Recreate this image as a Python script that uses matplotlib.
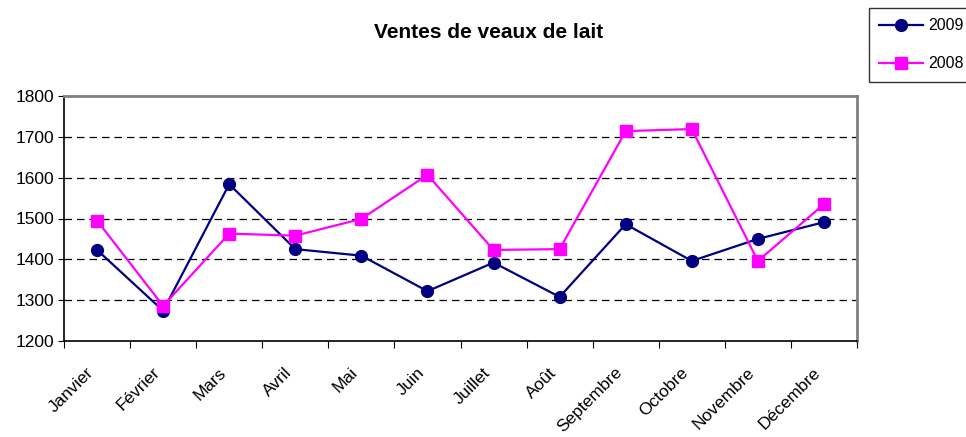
import matplotlib.pyplot as plt
import matplotlib.transforms as mtransforms
import numpy as np

plt.rcParams['font.family'] = ['Liberation Sans', 'DejaVu Sans']

mois = ['Janvier', 'Février', 'Mars', 'Avril', 'Mai', 'Juin', 'Juillet',
        'Août', 'Septembre', 'Octobre', 'Novembre', 'Décembre']
ventes_2009 = [1423, 1274, 1584, 1425, 1409, 1322, 1392, 1308, 1486, 1396, 1450, 1491]
ventes_2008 = [1495, 1286, 1463, 1458, 1499, 1607, 1423, 1425, 1714, 1719, 1396, 1535]

fig = plt.figure(figsize=(9.66, 4.37), dpi=100)
ax = fig.add_axes([64 / 966, 1 - 341 / 437, (857 - 64) / 966, (341 - 96) / 437])

x = np.arange(len(mois))
ax.plot(x, ventes_2009, color='#000080', lw=1.6, marker='o', ms=8.5, label='2009', zorder=3)
ax.plot(x, ventes_2008, color='#FF00FF', lw=1.6, marker='s', ms=8.5, label='2008', zorder=3)

ax.set_xlim(-0.5, len(mois) - 0.5)
ax.set_ylim(1200, 1800)
ax.set_yticks(range(1200, 1801, 100))
ax.set_xticks(np.arange(-0.5, len(mois), 1.0))
ax.set_xticklabels([])
ax.set_xticks(x, minor=True)
ax.set_xticklabels(mois, minor=True, rotation=45, ha='right', va='top',
                   rotation_mode='anchor', fontsize=12.5)
ax.tick_params(axis='x', which='minor', length=0, pad=10)
ax.tick_params(axis='x', which='major', length=5, direction='out', color='black')
ax.tick_params(axis='y', length=4, direction='out', labelsize=12.5, pad=3)

# nudge the month labels left/down like the original
offset = mtransforms.ScaledTranslation(-11 / 100, -10 / 100, fig.dpi_scale_trans)
for lab in ax.get_xticklabels(minor=True):
    lab.set_transform(lab.get_transform() + offset)

for yv in range(1300, 1800, 100):
    ax.axhline(yv, color='black', lw=0.9, ls=(0, (6, 4)), zorder=1)

ax.spines['top'].set_color('#808080')
ax.spines['right'].set_color('#808080')
ax.spines['top'].set_linewidth(2)
ax.spines['right'].set_linewidth(2)
ax.spines['left'].set_color('black')
ax.spines['bottom'].set_color('black')
ax.spines['left'].set_linewidth(1.2)
ax.spines['bottom'].set_linewidth(1.2)

fig.text(489 / 966, 1 - 33 / 437, 'Ventes de veaux de lait', ha='center', va='center',
         fontsize=15, fontweight='bold')

leg = fig.legend(loc='upper left', bbox_to_anchor=(869 / 966, 1 - 8 / 437), borderaxespad=0,
                 frameon=True, fancybox=False, edgecolor='black', fontsize=11.5,
                 handlelength=2.76, borderpad=0.64, labelspacing=1.45, handletextpad=0.3)
leg.get_frame().set_linewidth(1.0)

fig.savefig('out.png', dpi=100)
